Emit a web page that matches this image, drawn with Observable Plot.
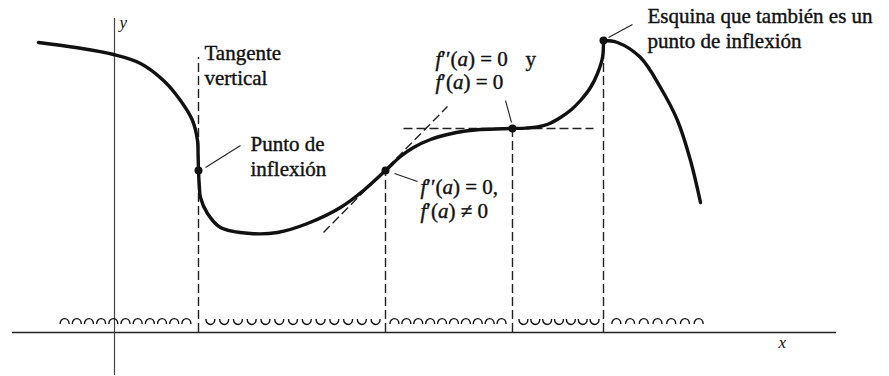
<!DOCTYPE html>
<html><head><meta charset="utf-8">
<script src="https://cdn.jsdelivr.net/npm/d3@7"></script>
<script src="https://cdn.jsdelivr.net/npm/@observablehq/plot@0.6"></script>
<style>html,body{margin:0;padding:0;background:#fff}svg{display:block}
svg text, svg tspan{font-family:"Liberation Serif","Times New Roman",serif !important;}</style>
</head><body><div id="chart"></div>
<script>
// Curve f(x): left branch up to the corner, right branch after it (math units, origin at axes)
const leftX = [-76,-39,-1,26,49,66,78,83,83.6,84,84.8,86,93,106,136,163,193,226,249,271,286,299,316,333,351,366,398,411,423,434,446,457,466,476,483,488,489];
const leftY = [290,285,278,269,252,232,212,192,177,162,147,135,119,105,99,100,109,125,142,162,176,185,193,198,201.5,203,204,204.4,205.5,208.5,215,223,232,245,259,275,292];
const rightX = [489,503,526,546,563,576,586];
const rightY = [292,290,275,245,212,172,130];

// Marked points (inflection points / corner)
const pointX = [84,271,398,489];
const pointY = [162,162,204,292];

// Dashed vertical guides
const guideX = [84,271,398,489];
const guideTop = [275,162,204,282];

// Tangent lines (dashed): horizontal and slanted
const tangentX1 = [289,209];
const tangentY1 = [204,100];
const tangentX2 = [479,333];
const tangentY2 = [204,226];

// Leader lines from labels
const leaderX1 = [91,280,391,494];
const leaderY1 = [165,159,232,295];
const leaderX2 = [126,303,397,518];
const leaderY2 = [187,151,210,308];

// Concavity intervals marked along the x-axis
const concFrom = [-56,89,274,403,495];
const concTo = [78,268,393,486,591];
const concCount = [11,13,10,7,7];
const concType = ["down","up","down","up","down"];

// Annotation labels
const labelText = ["Tangente","vertical","Punto de","inflexión","f′′(a) = 0,","f′(a) ≠ 0","f′′(a) = 0","y","f′(a) = 0","Esquina que también es un","punto de inflexión"];
const labelX = [90,90,136,136,306,306,321,411,321,533,533];
const labelY = [273,248,182,157,139,115,267,267,244,310,285];

// Axis names
const axisText = ["x","y"];
const axisX = [664,5];
const axisY = [-15,305];

const left = leftX.map((x,i)=>({x, y:leftY[i]}));
const right = rightX.map((x,i)=>({x, y:rightY[i]}));
const pts = pointX.map((x,i)=>({x, y:pointY[i]}));
const guides = guideX.map((x,i)=>({x, top:guideTop[i]}));
const tangents = tangentX1.map((x,i)=>({x1:x, y1:tangentY1[i], x2:tangentX2[i], y2:tangentY2[i]}));
const leaders = leaderX1.map((x,i)=>({x1:x, y1:leaderY1[i], x2:leaderX2[i], y2:leaderY2[i]}));
const labels = labelText.map((t,i)=>({t, x:labelX[i], y:labelY[i]}));
const axes = axisText.map((t,i)=>({t, x:axisX[i], y:axisY[i]}));

const arcs = [];
concFrom.forEach((a,k)=>{
  const b = concTo[k], n = concCount[k], step = (b-a)/n;
  for (let i=0;i<n;i++) arcs.push({x: a + (i+0.5)*step, type: concType[k]});
});

const arcDown = {draw(ctx, size){ const r = Math.sqrt(size/Math.PI);
  ctx.moveTo(-r, r*0.55); ctx.bezierCurveTo(-r, -r*1.05, r, -r*1.05, r, r*0.55); }};
const arcUp = {draw(ctx, size){ const r = Math.sqrt(size/Math.PI);
  ctx.moveTo(-r, -r*0.55); ctx.bezierCurveTo(-r, r*1.05, r, r*1.05, r, -r*0.55); }};

const ink = "#111";
const serif = "Liberation Serif";

const chart = Plot.plot({
  width: 889, height: 376, margin: 0,
  x: {domain: [-114, 775], axis: null},
  y: {domain: [-44, 332], axis: null},
  style: {background: "#fff"},
  marks: [
    Plot.ruleY([0], {x1: -102, x2: 722, stroke: "#222", strokeWidth: 1.6}),
    Plot.ruleX([0], {y1: -43, y2: 314, stroke: "#444", strokeWidth: 1.2}),
    Plot.ruleX(guides, {x: "x", y1: 0, y2: "top", stroke: "#222", strokeWidth: 1.4, strokeDasharray: "9,4"}),
    Plot.link(tangents, {x1:"x1", y1:"y1", x2:"x2", y2:"y2", stroke: "#222", strokeWidth: 1.4, strokeDasharray: "9,4"}),
    Plot.link(leaders, {x1:"x1", y1:"y1", x2:"x2", y2:"y2", stroke: "#222", strokeWidth: 1.1}),
    Plot.line(left, {x:"x", y:"y", curve:"catmull-rom", stroke: ink, strokeWidth: 3.4}),
    Plot.line(right, {x:"x", y:"y", curve:"catmull-rom", stroke: ink, strokeWidth: 3.4}),
    Plot.dot(pts, {x:"x", y:"y", r: 4, fill: ink, stroke: "none"}),
    Plot.dot(arcs.filter(d=>d.type==="down"), {x:"x", y: 11, r: 4.5, symbol: arcDown, fill: "none", stroke: ink, strokeWidth: 1.4}),
    Plot.dot(arcs.filter(d=>d.type==="up"), {x:"x", y: 11, r: 4.5, symbol: arcUp, fill: "none", stroke: ink, strokeWidth: 1.4}),
    Plot.text(labels, {x:"x", y:"y", text:"t", textAnchor:"start", lineAnchor:"bottom", fontSize: 21, fontFamily: serif, fill: ink, stroke: ink, strokeWidth: 0.4}),
    Plot.text(axes, {x:"x", y:"y", text:"t", textAnchor:"start", lineAnchor:"bottom", fontSize: 17, fontFamily: serif, fontStyle: "italic", fill: ink})
  ]
});
document.getElementById("chart").append(chart);

// italicize f and a in the math labels
d3.select(chart).selectAll("text").each(function(){
  const s = this.textContent;
  if (!/^f′+\(a\)/.test(s)) return;
  const parts = s.split(/(f|a)/).filter(p=>p.length);
  this.textContent = "";
  const sel = d3.select(this);
  parts.forEach(p=>{
    const ts = sel.append("tspan").text(p);
    if (p==="f" || p==="a") ts.attr("font-style","italic");
  });
});
</script>
</body></html>
